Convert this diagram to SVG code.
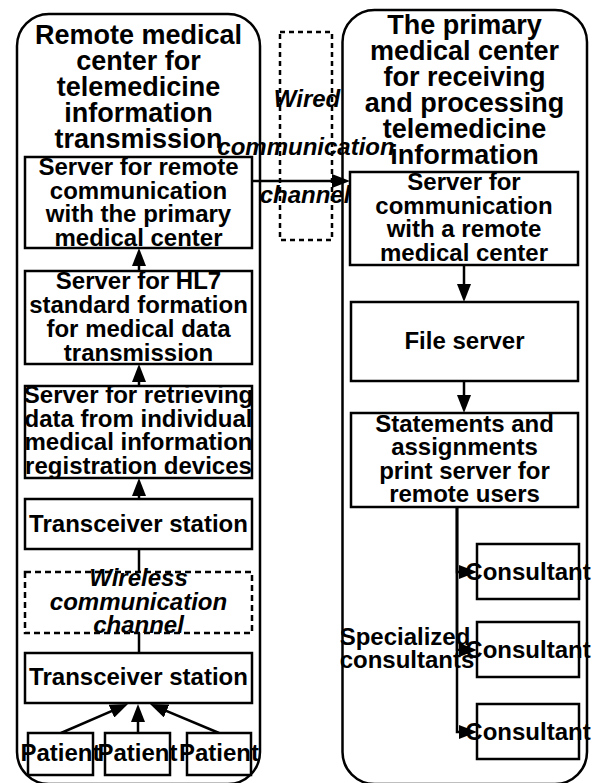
<svg xmlns="http://www.w3.org/2000/svg" width="593" height="783" viewBox="0 0 593 783">
<style>
text{font-family:"Liberation Sans",Arial,sans-serif;font-weight:bold;fill:#000;text-anchor:middle}
.t{font-size:27px}
.b{font-size:24px}
.i{font-size:24px;font-style:italic}
.box{fill:#fff;stroke:#000;stroke-width:2.5}
.cont{fill:#fff;stroke:#000;stroke-width:2.5}
.dash{fill:none;stroke:#000;stroke-width:2.5;stroke-dasharray:5 4}
.dashw{fill:#fff;stroke:#000;stroke-width:2.5;stroke-dasharray:6 4}
.ln{fill:none;stroke:#000;stroke-width:2.5}
.ar{fill:none;stroke:#000;stroke-width:2.5;marker-end:url(#ah)}
</style>
<defs>
<marker id="ah" viewBox="0 0 18 14" refX="12" refY="7" markerWidth="18" markerHeight="14" markerUnits="userSpaceOnUse" orient="auto">
<path d="M0,0 L18,7 L0,14 z" fill="#000"/>
</marker>
</defs>
<rect width="593" height="783" fill="#fff"/>
<g id="remote-center">
<rect class="cont" x="17" y="14" width="243" height="770" rx="32" ry="32"/>
<text class="t" x="138.5" y="43.5">Remote medical</text>
<text class="t" x="138.5" y="69.5">center for</text>
<text class="t" x="138.5" y="95.5">telemedicine</text>
<text class="t" x="138.5" y="121.5">information</text>
<text class="t" x="138.5" y="147.5">transmission</text>
</g>
<g id="primary-center">
<rect class="cont" x="342.5" y="10" width="244.5" height="774" rx="32" ry="32"/>
<text class="t" x="464.5" y="34">The primary</text>
<text class="t" x="464.5" y="60">medical center</text>
<text class="t" x="464.5" y="86">for receiving</text>
<text class="t" x="464.5" y="112">and processing</text>
<text class="t" x="464.5" y="138">telemedicine</text>
<text class="t" x="464.5" y="164">information</text>
</g>
<g id="wired-channel">
<rect class="dash" x="280" y="32" width="52" height="208"/>
</g>
<g id="connectors">
<path class="ar" d="M252,181 H344"/>
<path class="ar" d="M139,271 V254"/>
<path class="ar" d="M139,386 V370"/>
<path class="ar" d="M139,499 V484"/>
<path class="ln" d="M139,549 V572"/>
<path class="ln" d="M139,633 V653"/>
<path class="ar" d="M61,733 L122.5,706.4"/>
<path class="ar" d="M138,733 V710"/>
<path class="ar" d="M219,733 L155.5,706.3"/>
<path class="ar" d="M464,265 V296"/>
<path class="ar" d="M464,381 V407"/>
<path class="ar" d="M457,507 V572 H471"/>
<path class="ar" d="M457,507 V650 H471"/>
<path class="ar" d="M457,507 V732 H471"/>
</g>
<g id="server-remote">
<rect class="box" x="25" y="157" width="227" height="91"/>
<text class="b" x="138.5" y="175">Server for remote</text>
<text class="b" x="138.5" y="198.5">communication</text>
<text class="b" x="138.5" y="222">with the primary</text>
<text class="b" x="138.5" y="245.5">medical center</text>
</g>
<g id="server-hl7">
<rect class="box" x="25" y="271" width="227" height="93"/>
<text class="b" x="138.5" y="288.5">Server for HL7</text>
<text class="b" x="138.5" y="312.5">standard formation</text>
<text class="b" x="138.5" y="336.5">for medical data</text>
<text class="b" x="138.5" y="360.5">transmission</text>
</g>
<g id="server-retrieve">
<rect class="box" x="25" y="386" width="227" height="92"/>
<text class="b" x="138.5" y="403">Server for retrieving</text>
<text class="b" x="138.5" y="426.5">data from individual</text>
<text class="b" x="138.5" y="450">medical information</text>
<text class="b" x="138.5" y="473.5">registration devices</text>
</g>
<g id="transceiver-1">
<rect class="box" x="25" y="499" width="227" height="50"/>
<text class="b" x="138.5" y="531.5">Transceiver station</text>
</g>
<g id="wireless-channel">
<rect class="dashw" x="25" y="572" width="227" height="61"/>
<text class="i" x="138.5" y="586">Wireless</text>
<text class="i" x="138.5" y="609.5">communication</text>
<text class="i" x="138.5" y="633">channel</text>
</g>
<g id="transceiver-2">
<rect class="box" x="25" y="653" width="227" height="50"/>
<text class="b" x="138.5" y="685">Transceiver station</text>
</g>
<g id="patient-1">
<rect class="box" x="28" y="733" width="65" height="42"/>
<text class="b" x="60.5" y="761">Patient</text>
</g>
<g id="patient-2">
<rect class="box" x="105" y="733" width="65" height="42"/>
<text class="b" x="137.5" y="761">Patient</text>
</g>
<g id="patient-3">
<rect class="box" x="187" y="733" width="64" height="42"/>
<text class="b" x="219" y="761">Patient</text>
</g>
<g id="wired-label">
<text class="i" x="307" y="107">Wired</text>
<text class="i" x="306" y="155">communication</text>
<text class="i" x="305" y="203">channel</text>
</g>
<g id="server-primary">
<rect class="box" x="350" y="172" width="228" height="93"/>
<text class="b" x="464" y="190">Server for</text>
<text class="b" x="464" y="213.5">communication</text>
<text class="b" x="464" y="237">with a remote</text>
<text class="b" x="464" y="260.5">medical center</text>
</g>
<g id="file-server">
<rect class="box" x="351" y="302" width="227" height="79"/>
<text class="b" x="464.5" y="349">File server</text>
</g>
<g id="print-server">
<rect class="box" x="351" y="413" width="227" height="94"/>
<text class="b" x="464.5" y="431.5">Statements and</text>
<text class="b" x="464.5" y="455">assignments</text>
<text class="b" x="464.5" y="478.5">print server for</text>
<text class="b" x="464.5" y="502">remote users</text>
</g>
<g id="consultant-1">
<rect class="box" x="477" y="544" width="102" height="55"/>
<text class="b" x="528" y="580">Consultant</text>
</g>
<g id="consultant-2">
<rect class="box" x="477" y="622" width="102" height="55"/>
<text class="b" x="528" y="658">Consultant</text>
</g>
<g id="consultant-3">
<rect class="box" x="477" y="704" width="102" height="55"/>
<text class="b" x="528" y="740">Consultant</text>
</g>
<g id="specialized-label">
<text class="b" x="405" y="645">Specialized</text>
<text class="b" x="407" y="668">consultants</text>
</g>
</svg>
